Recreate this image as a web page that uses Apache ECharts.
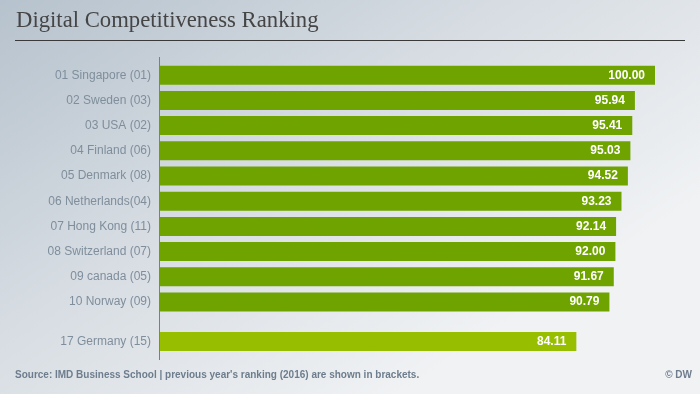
<!DOCTYPE html>
<html>
<head>
<meta charset="utf-8">
<script src="https://cdn.jsdelivr.net/npm/echarts@6/dist/echarts.min.js"></script>
<style>html,body{margin:0;padding:0;}#c{width:700px;height:394px;}</style>
</head>
<body>
<div id="c"></div>
<script>
const categories = ['01 Singapore (01)', '02 Sweden (03)', '03 USA (02)', '04 Finland (06)', '05 Denmark (08)', '06 Netherlands(04)', '07 Hong Kong (11)', '08 Switzerland (07)', '09 canada (05)', '10 Norway (09)'];
const values = [100.00, 95.94, 95.41, 95.03, 94.52, 93.23, 92.14, 92.00, 91.67, 90.79];
const germanyCategory = ['17 Germany (15)'];
const germanyValue = [84.11];

const titleText = 'Digital Competitiveness Ranking';
const sourceText = "Source: IMD Business School | previous year's ranking (2016) are shown in brackets.";
const creditText = '\u00A9 DW';

const chart = echarts.init(document.getElementById('c'), null, {renderer: 'canvas'});

const labelStyle = {color: '#7f8e9c', fontSize: 12, fontFamily: 'Liberation Sans, Arial, sans-serif', margin: 9};
const valueLabel = {
  show: true, position: 'insideRight', distance: 10,
  color: '#ffffff', fontWeight: 'bold', fontSize: 12, fontFamily: 'Liberation Sans, Arial, sans-serif',
  formatter: p => p.value.toFixed(2)
};

chart.setOption({
  backgroundColor: {
    type: 'linear', x: 0, y: 0, x2: 300, y2: 460, global: true,
    colorStops: [
      {offset: 0, color: '#b6c2cd'},
      {offset: 0.5, color: '#d6dce2'},
      {offset: 1, color: '#f0f2f4'}
    ]
  },
  animation: false,
  grid: [
    {left: 160, top: 62.6, width: 495, height: 252},
    {left: 160, top: 328.9, width: 495, height: 25.2}
  ],
  xAxis: [
    {type: 'value', gridIndex: 0, min: 0, max: 100, show: false},
    {type: 'value', gridIndex: 1, min: 0, max: 100, show: false}
  ],
  yAxis: [
    {type: 'category', gridIndex: 0, data: categories, inverse: true,
     axisLine: {show: false}, axisTick: {show: false}, splitLine: {show: false}, axisLabel: labelStyle},
    {type: 'category', gridIndex: 1, data: germanyCategory, inverse: true,
     axisLine: {show: false}, axisTick: {show: false}, splitLine: {show: false}, axisLabel: labelStyle}
  ],
  series: [
    {type: 'bar', xAxisIndex: 0, yAxisIndex: 0, data: values, barWidth: 19,
     itemStyle: {color: '#6fa300'}, label: valueLabel},
    {type: 'bar', xAxisIndex: 1, yAxisIndex: 1, data: germanyValue, barWidth: 19,
     itemStyle: {color: '#97bf00'}, label: valueLabel}
  ],
  graphic: [
    {type: 'text', left: 16, top: 10, style: {text: titleText, fill: '#454545',
      font: '22.7px "Liberation Serif", "DejaVu Serif", serif'}},
    {type: 'line', shape: {x1: 15, y1: 40.5, x2: 685, y2: 40.5}, style: {stroke: '#3a3a3a', lineWidth: 1}},
    {type: 'line', shape: {x1: 159.5, y1: 57, x2: 159.5, y2: 360}, style: {stroke: '#6f8194', lineWidth: 1}, z: 10},
    {type: 'text', left: 15, top: 370.5, style: {text: sourceText, fill: '#6d7d8d',
      font: 'bold 10px "Liberation Sans", Arial, sans-serif'}},
    {type: 'text', right: 8, top: 370.5, style: {text: creditText, fill: '#6d7d8d',
      font: 'bold 10px "Liberation Sans", Arial, sans-serif'}}
  ]
});
</script>
</body>
</html>
